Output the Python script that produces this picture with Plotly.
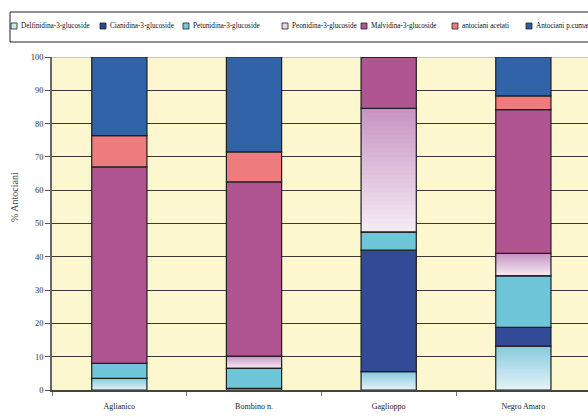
import numpy as np
import plotly.graph_objects as go

# Anthocyanin profile (% of total) for four grape varieties
categories = ["Aglianico", "Bombino n.", "Gaglioppo", "Negro Amaro"]

series_names = [
    "Delfinidina-3-glucoside",
    "Cianidina-3-glucoside",
    "Petunidina-3-glucoside",
    "Peonidina-3-glucoside",
    "Malvidina-3-glucoside",
    "antociani acetati",
    "Antociani p.cumarati",
]

delfinidina = [3.5, 0.5, 5.5, 13.2]
cianidina = [0.0, 0.0, 36.5, 5.6]
petunidina = [4.5, 6.0, 5.4, 15.5]
peonidina = [0.0, 3.7, 37.2, 6.7]
malvidina = [59.0, 52.3, 15.4, 43.2]
acetati = [9.4, 9.0, 0.0, 4.1]
cumarati = [23.6, 28.5, 0.0, 11.7]

series_values = [delfinidina, cianidina, petunidina, peonidina, malvidina, acetati, cumarati]

y_ticks = list(range(0, 101, 10))

# ---- styling -------------------------------------------------------------
SERIF = "Liberation Serif"
solid_colors = ["#b9e2ec", "#334a97", "#6ec6d8", "#e6cbe3", "#b05592", "#ee7c7e", "#3063a8"]
# vertical gradients (bottom colour, top colour) for the two shaded series
gradients = {0: ("#e2f2f7", "#88cbde"), 3: ("#f5eaf4", "#c795c3")}
legend_swatch = ["#c8e9f1", "#2f4797", "#6ec6d8", "#ecd3e9", "#b05592", "#ee7c7e", "#2d5fa6"]
OUTLINE = "#1e1e1e"
BAR_W = 0.41
N_STEPS = 28

W, H = 588, 417
M_L, M_R, M_T, M_B = 52, 0, 57, 27
PW, PH = W - M_L - M_R, H - M_T - M_B


def px_x(p):
    return (p - M_L) / PW


def px_y(p):
    return (H - M_B - p) / PH


def hex_rgb(h):
    h = h.lstrip("#")
    return np.array([int(h[i:i + 2], 16) for i in (0, 2, 4)], dtype=float)


values = np.array(series_values, dtype=float)
bases = np.vstack([np.zeros(len(categories)), np.cumsum(values, axis=0)[:-1]])

fig = go.Figure()

# gradient fills, drawn as stacked overlapping layers from light (bottom) to dark (top)
for idx, (c_bot, c_top) in gradients.items():
    v = values[idx]
    b = bases[idx]
    cb, ct = hex_rgb(c_bot), hex_rgb(c_top)
    for k in range(N_STEPS):
        f = k / N_STEPS
        t = k / (N_STEPS - 1)
        rgb = cb + (ct - cb) * t
        fig.add_trace(go.Bar(
            x=categories,
            y=v * (1 - f),
            base=b + v * f,
            width=BAR_W,
            marker=dict(color="rgb(%d,%d,%d)" % tuple(rgb.round()), line=dict(width=0)),
            showlegend=False,
            hoverinfo="skip",
        ))

# every segment with its outline (gradient segments get a transparent fill)
for idx, name in enumerate(series_names):
    fill = "rgba(0,0,0,0)" if idx in gradients else solid_colors[idx]
    fig.add_trace(go.Bar(
        x=categories,
        y=values[idx],
        base=bases[idx],
        width=BAR_W,
        name=name,
        marker=dict(color=fill, line=dict(color=OUTLINE, width=1.2)),
        showlegend=False,
    ))

shapes = []
annotations = []

# light top border of the plotting area
shapes.append(dict(type="line", xref="paper", yref="y", x0=0, x1=1, y0=100, y1=100,
                   line=dict(color="#b4b4b4", width=1.5), layer="between"))

# legend box along the top
shapes.append(dict(type="rect", xref="paper", yref="paper",
                   x0=px_x(10), x1=px_x(640), y0=px_y(42), y1=px_y(12),
                   line=dict(color="#222222", width=1), fillcolor="white", layer="above"))
legend_x = [11, 100, 183, 282, 361, 452, 526]
for i, name in enumerate(series_names):
    x0 = legend_x[i]
    shapes.append(dict(type="rect", xref="paper", yref="paper",
                       x0=px_x(x0), x1=px_x(x0 + 6), y0=px_y(29), y1=px_y(23),
                       line=dict(color="#222222", width=0.8), fillcolor=legend_swatch[i], layer="above"))
    annotations.append(dict(text=name, xref="paper", yref="paper", x=px_x(x0 + 8), y=px_y(26),
                            xanchor="left", yanchor="middle", showarrow=False,
                            font=dict(family=SERIF, size=7.2, color="#111111")))

# y axis title
annotations.append(dict(text="% Antociani", xref="paper", yref="paper", x=px_x(14), y=px_y(197),
                        xanchor="center", yanchor="middle", textangle=-90, showarrow=False,
                        font=dict(family=SERIF, size=10, color="#444444")))

fig.update_layout(
    width=W, height=H,
    margin=dict(l=M_L, r=M_R, t=M_T, b=M_B, pad=0),
    barmode="overlay",
    paper_bgcolor="white",
    plot_bgcolor="#fdf7d0",
    showlegend=False,
    shapes=shapes,
    annotations=annotations,
    xaxis=dict(
        type="category",
        range=[-0.5, 3.48],
        tickson="boundaries",
        ticks="outside", ticklen=4, tickcolor="#777777", tickwidth=1,
        ticklabelstandoff=8,
        showline=True, linecolor="#444444", linewidth=1.5,
        showgrid=False, zeroline=False,
        tickfont=dict(family=SERIF, size=8, color="#222222"),
    ),
    yaxis=dict(
        range=[0, 100],
        tickmode="array", tickvals=y_ticks,
        ticks="outside", ticklen=5, tickcolor="#555555", tickwidth=1,
        showline=True, linecolor="#666666", linewidth=1.5,
        showgrid=True, gridcolor="#3a3a3a", gridwidth=1.3,
        zeroline=False,
        tickfont=dict(family=SERIF, size=8.5, color="#333333"),
    ),
)

fig.write_html("out.html")
